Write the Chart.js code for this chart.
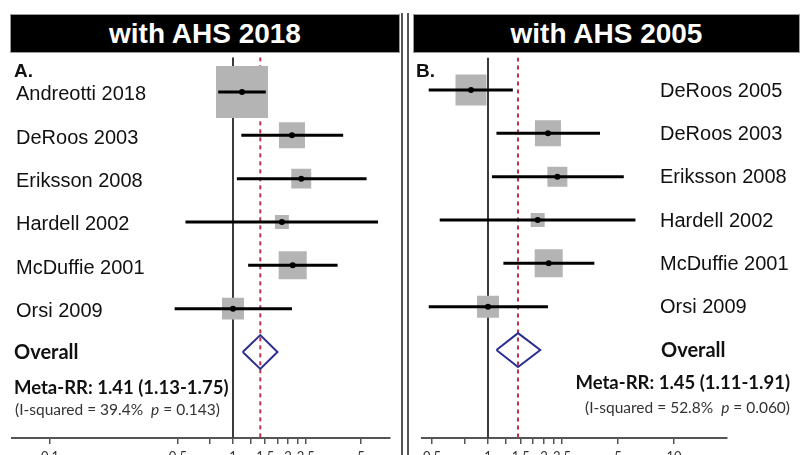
<!DOCTYPE html>
<html>
<head>
<meta charset="utf-8">
<script src="https://cdn.jsdelivr.net/npm/chart.js@4.4.1/dist/chart.umd.min.js"></script>
<style>
  html, body { margin: 0; padding: 0; background: #fff; }
  #page { position: relative; width: 800px; height: 455px; overflow: hidden; }
  .panel { position: absolute; top: 0; width: 400px; height: 455px; }
  .head {
    position: absolute; top: 14px; height: 39px; box-sizing: border-box;
    background: #000; color: #fff; border: 1px solid #9a9a9a;
    font: bold 28px "Liberation Sans", Arial, sans-serif; line-height: 37px; text-align: center;
  }
  .divider { position: absolute; top: 13px; bottom: 0; width: 2px; background: #555; }
</style>
</head>
<body>
<div id="page">
  <div class="panel" style="left:0"><canvas id="chartA"></canvas></div>
  <div class="panel" style="left:400px"><canvas id="chartB"></canvas></div>
  <div class="head" style="left:10px;width:390px">with AHS 2018</div>
  <div class="head" style="left:413px;width:387px">with AHS 2005</div>
  <div class="divider" style="left:401px"></div>
  <div class="divider" style="left:407px"></div>
</div>
<script>
// panel A: with AHS 2018
const namesA = ['Andreotti 2018', 'DeRoos 2003', 'Eriksson 2008', 'Hardell 2002', 'McDuffie 2001', 'Orsi 2009'];
const rrA = [1.12, 2.10, 2.36, 1.85, 2.12, 1.00];
const lowA = [0.83, 1.11, 1.05, 0.55, 1.21, 0.48];
const highA = [1.51, 4.00, 5.37, 6.20, 3.73, 2.10];
const weightA = [51.6, 12.9, 7.6, 3.7, 15.0, 9.2];
const metaA = [1.41, 1.13, 1.75];
const hetA = ['39.4%', '0.143'];
const ticksA = [0.1, 0.5, 0.75, 1, 1.25, 1.5, 1.75, 2, 2.25, 2.5, 5];
const tickLabelsA = ['0.1', '0.5', '', '1', '', '1.5', '', '2', '', '2.5', '5'];

// panel B: with AHS 2005
const namesB = ['DeRoos 2005', 'DeRoos 2003', 'Eriksson 2008', 'Hardell 2002', 'McDuffie 2001', 'Orsi 2009'];
const rrB = [0.81, 2.10, 2.36, 1.85, 2.12, 1.00];
const lowB = [0.48, 1.11, 1.05, 0.55, 1.21, 0.48];
const highB = [1.36, 4.00, 5.37, 6.20, 3.73, 2.10];
const weightB = [27.4, 19.3, 11.4, 5.6, 22.4, 13.8];
const metaB = [1.45, 1.11, 1.91];
const hetB = ['52.8%', '0.060'];
const ticksB = [0.5, 0.75, 1, 1.25, 1.5, 1.75, 2, 2.25, 2.5, 5, 10];
const tickLabelsB = ['0.5', '', '1', '', '1.5', '', '2', '', '2.5', '5', '10'];

const textPlugin = {
  id: 'forestText',
  afterDraw(chart, args, o) {
    const ctx = chart.ctx;
    const y = chart.scales.y;
    const n = o.names.length;
    const yo = y.getPixelForValue(n);
    ctx.save();
    ctx.textBaseline = 'middle';
    ctx.fillStyle = '#111';
    ctx.font = 'bold 19px "Liberation Sans"';
    ctx.fillText(o.letter, o.letterX, 72);
    ctx.font = '20px "Liberation Sans"';
    o.names.forEach((s, i) => ctx.fillText(s, o.nameX, y.getPixelForValue(i) + o.nameDy));

    ctx.font = 'bold 20px Lato';
    ctx.fillText('Overall', o.overallX, yo + 1);

    const meta = 'Meta-RR: ' + o.meta[0].toFixed(2) + ' (' + o.meta[1].toFixed(2) + '-' + o.meta[2].toFixed(2) + ')';
    ctx.font = 'bold 18.5px Lato';
    let mx = o.metaX;
    if (o.alignRight) mx -= ctx.measureText(meta).width;
    ctx.fillText(meta, mx, yo + o.metaDy);

    // heterogeneity line with italic p
    const parts = [['(I-squared = ' + o.het[0] + '  ', '15.5px Lato'], ['p', 'italic 15.5px Lato'], [' = ' + o.het[1] + ')', '15.5px Lato']];
    let total = 0;
    parts.forEach(p => { ctx.font = p[1]; total += ctx.measureText(p[0]).width; });
    let hx = o.alignRight ? o.metaX - total : o.metaX + 1;
    ctx.fillStyle = '#333';
    parts.forEach(p => { ctx.font = p[1]; ctx.fillText(p[0], hx, yo + o.hetDy); hx += ctx.measureText(p[0]).width; });
    ctx.restore();
  }
};

function forest(id, d, look) {
  const n = d.names.length;
  const datasets = [
    { data: [{ x: 1, y: look.yMin }, { x: 1, y: look.yMax }], showLine: true,
      borderColor: '#3a3a3a', borderWidth: 2, pointRadius: 0, order: 10 },
    { data: [{ x: d.meta[0], y: look.yMin }, { x: d.meta[0], y: look.yMax }], showLine: true,
      borderColor: '#b8334a', borderWidth: 2, borderDash: [4, 4], pointRadius: 0, order: 9 },
    { data: d.rr.map((v, i) => ({ x: v, y: i })), pointStyle: 'rect',
      pointRadius: d.weight.map(w => look.boxScale * Math.sqrt(w) / Math.SQRT2),
      backgroundColor: '#b4b4b4', borderWidth: 0, order: 8 }
  ];
  d.rr.forEach((v, i) => datasets.push({
    data: [{ x: d.low[i], y: i }, { x: d.high[i], y: i }], showLine: true,
    borderColor: '#000', borderWidth: 3, pointRadius: 0, order: 6
  }));
  datasets.push({ data: d.rr.map((v, i) => ({ x: v, y: i })), pointRadius: 3,
    backgroundColor: '#000', borderWidth: 0, order: 4 });
  const h = look.diamondHalf;
  datasets.push({
    data: [{ x: d.meta[1], y: n }, { x: d.meta[0], y: n - h }, { x: d.meta[2], y: n },
           { x: d.meta[0], y: n + h }, { x: d.meta[1], y: n }],
    showLine: true, borderColor: '#2b2f8f', borderWidth: 2, borderJoinStyle: 'miter',
    pointRadius: 0, order: 2
  });

  new Chart(document.getElementById(id), {
    type: 'scatter',
    data: { datasets },
    plugins: [textPlugin],
    options: {
      responsive: true,
      maintainAspectRatio: false,
      animation: false,
      events: [],
      layout: { padding: look.padding, autoPadding: false },
      plugins: {
        legend: { display: false },
        tooltip: { enabled: false },
        forestText: {
          names: d.names, meta: d.meta, het: d.het, letter: look.letter, letterX: look.letterX,
          nameX: look.nameX, nameDy: look.nameDy, overallX: look.overallX,
          metaX: look.metaX, metaDy: look.metaDy, hetDy: look.hetDy, alignRight: look.alignRight
        }
      },
      scales: {
        x: {
          type: 'logarithmic', min: look.xMin, max: look.xMax, bounds: 'data',
          afterBuildTicks: s => { s.ticks = d.ticks.map(v => ({ value: v })); },
          afterFit: s => { s.height = 17; },
          ticks: {
            autoSkip: false, maxRotation: 0, padding: 5, color: '#333',
            font: { family: 'Lato', size: 13 },
            callback: (v, i) => d.tickLabels[i]
          },
          grid: { drawOnChartArea: false, drawTicks: true, tickLength: 6, color: '#555', lineWidth: 1.5 },
          border: { display: true, color: '#555', width: 2 }
        },
        y: { type: 'linear', display: false, reverse: true, min: look.yMin, max: look.yMax }
      }
    }
  });
}

forest('chartA',
  { names: namesA, rr: rrA, low: lowA, high: highA, weight: weightA, meta: metaA, het: hetA,
    ticks: ticksA, tickLabels: tickLabelsA },
  { xMin: 0.062, xMax: 7.21, yMin: -0.8, yMax: 7.985, padding: { left: 12, right: 10, top: 57.3, bottom: 0 },
    boxScale: 7.24, diamondHalf: 0.39, letter: 'A.', letterX: 14, nameX: 16, nameDy: 3,
    overallX: 14, metaX: 14, metaDy: 36, hetDy: 58, alignRight: false });

forest('chartB',
  { names: namesB, rr: rrB, low: lowB, high: highB, weight: weightB, meta: metaB, het: hetB,
    ticks: ticksB, tickLabels: tickLabelsB },
  { xMin: 0.4417, xMax: 19.27, yMin: -0.75, yMax: 8.03, padding: { left: 22, right: 73, top: 57.5, bottom: 0 },
    boxScale: 5.92, diamondHalf: 0.39, letter: 'B.', letterX: 16, nameX: 260, nameDy: 1,
    overallX: 261, metaX: 390, metaDy: 33, hetDy: 58, alignRight: true });
</script>
</body>
</html>
